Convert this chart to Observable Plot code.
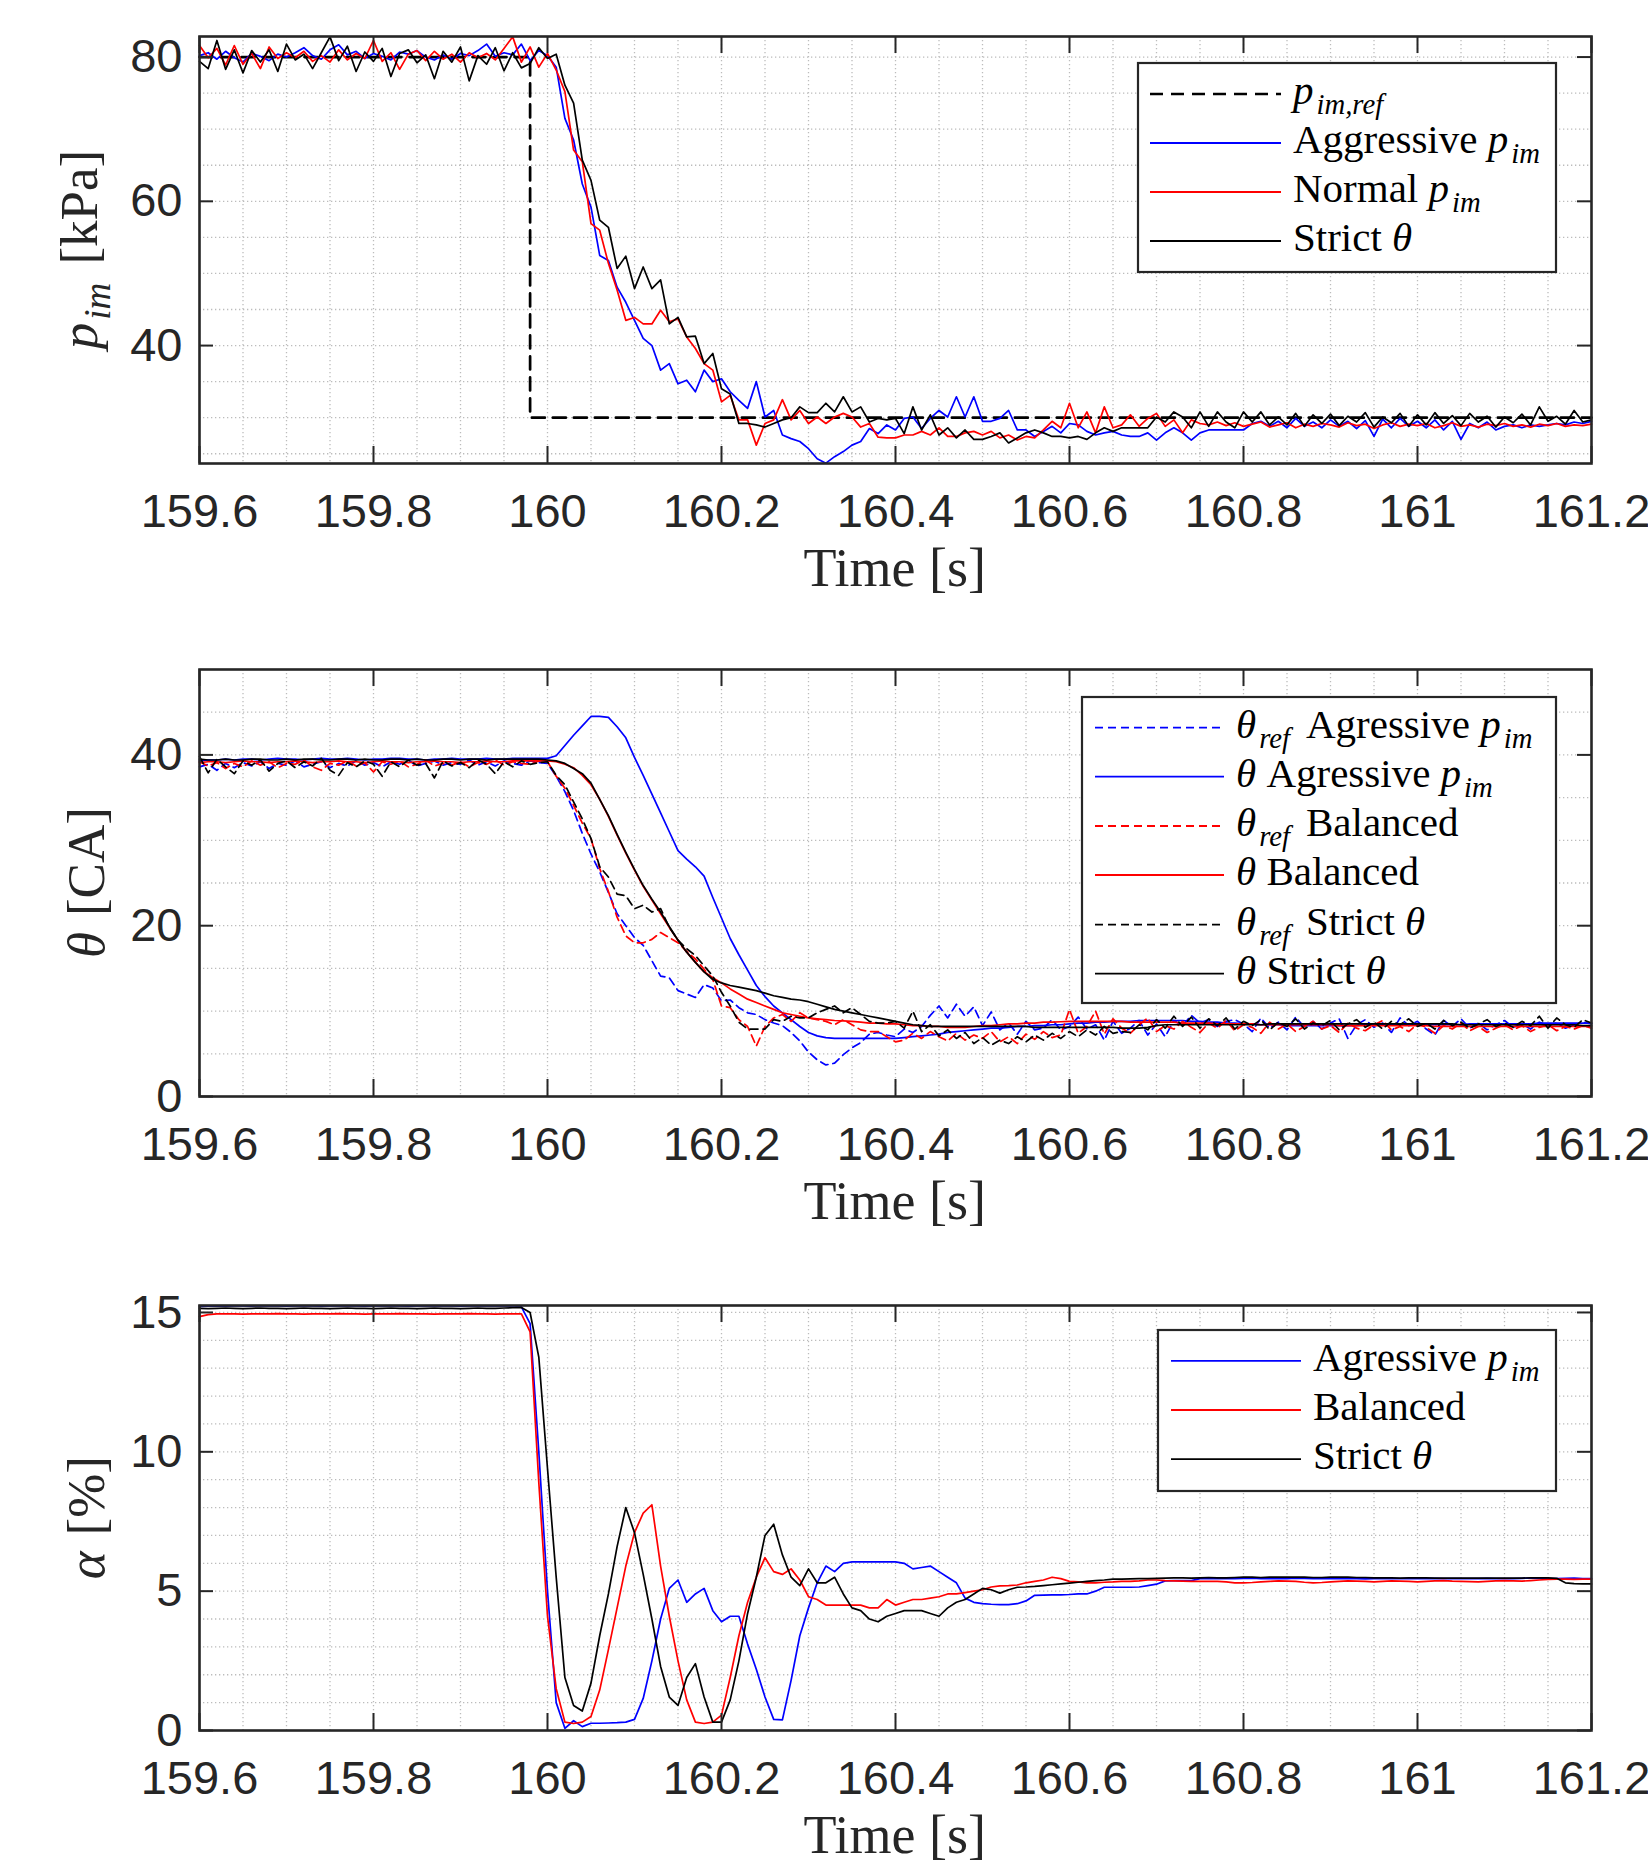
<!DOCTYPE html>
<html><head><meta charset="utf-8">
<script src="https://cdn.jsdelivr.net/npm/d3@7"></script>
<script src="https://cdn.jsdelivr.net/npm/@observablehq/plot@0.6"></script>
<style>
html,body{margin:0;padding:0;background:#fff;}
body{width:1648px;height:1863px;position:relative;overflow:hidden;}
.panel{position:absolute;left:0;}
#overlay{position:absolute;left:0;top:0;pointer-events:none;}
#overlay text{white-space:pre;}
</style></head><body>
<div id="p1" class="panel" style="top:0px"></div>
<div id="p2" class="panel" style="top:600px"></div>
<div id="p3" class="panel" style="top:1220px"></div>
<svg id="overlay" width="1648" height="1863" xmlns="http://www.w3.org/2000/svg"></svg>
<script>
// ---------- tick labels ----------
const xTickValues = [159.6, 159.8, 160, 160.2, 160.4, 160.6, 160.8, 161, 161.2];
const pimTicks = [40, 60, 80];
const thetaTicks = [0, 20, 40];
const alphaTicks = [0, 5, 10, 15];

// ---------- samples: t = 159.60, 159.61, ... 161.20 (100 Hz) ----------
const T0 = 159.6, DT = 0.01;

// Panel 1: intake manifold pressure p_im [kPa]
const pimRefTime = [159.6, 159.98, 159.98, 161.2];
const pimRefValue = [80, 80, 30, 30];
const pimAggressive = [
80.2,80.6,79.7,80.8,79.9,79.3,80.5,80.1,79.5,80.4,
80.0,80.6,81.3,80.2,79.7,81.0,81.7,80.3,80.8,79.8,
80.5,80.1,79.6,80.7,80.4,80.9,80.0,79.6,80.3,79.7,
80.5,80.2,80.9,81.8,80.1,80.6,80.3,81.8,79.5,80.9,
80.2,78.6,71.5,68.5,62.4,59.2,52.5,51.8,48.1,46.0,
43.5,41.0,40.0,36.6,37.5,34.7,35.2,33.6,36.6,35.0,
35.4,33.6,32.4,31.3,35.0,30.1,31.0,27.6,27.1,26.7,
25.7,24.3,23.7,24.6,25.3,26.2,26.7,28.5,27.8,29.0,
28.3,29.9,30.1,28.5,29.9,31.0,30.1,32.9,30.1,32.9,
29.5,29.5,29.9,31.0,28.3,28.3,27.4,28.1,28.8,27.9,
29.2,29.0,28.1,27.6,27.9,28.1,27.6,27.4,27.4,27.9,
26.9,27.9,28.6,27.9,26.9,27.9,28.3,28.3,28.3,28.3,
28.3,29.2,29.5,28.8,29.5,28.6,29.9,28.8,29.4,28.6,
29.7,28.8,29.5,28.5,29.6,27.4,29.8,28.6,29.9,28.8,
29.5,28.6,29.7,28.3,29.5,27.0,29.2,28.6,29.4,28.3,
28.8,29.0,28.6,29.0,28.8,29.0,29.2,29.0,29.4,29.2,29.5];
const pimNormal = [
81.6,79.9,81.2,78.9,81.6,79.0,80.5,78.4,81.4,79.8,
80.6,79.9,80.8,79.4,80.2,79.3,81.0,79.6,80.5,79.8,
82.3,79.4,80.6,78.3,80.4,80.9,79.5,80.8,79.7,80.4,
79.3,80.6,79.9,80.5,79.6,81.2,82.8,79.3,81.4,78.6,
80.5,78.2,75.2,67.1,65.5,56.9,56.0,51.4,47.7,43.5,
43.9,43.0,43.0,44.9,43.3,43.7,41.2,39.6,37.5,36.6,
32.2,33.1,29.7,29.7,26.2,29.2,29.7,32.5,29.7,31.0,
29.2,30.1,29.2,30.1,30.6,30.1,28.7,29.2,27.3,27.2,
27.2,27.6,27.6,28.1,27.6,28.6,27.4,27.4,27.9,28.1,
27.6,28.1,27.2,27.6,26.9,27.4,27.2,28.3,29.5,28.6,
32.0,28.6,30.8,27.9,31.5,28.6,29.0,30.4,28.8,29.9,
30.6,28.8,29.7,27.9,29.7,29.2,29.0,29.4,28.9,29.3,
28.8,29.1,29.4,28.7,29.0,29.3,28.6,29.1,28.8,29.2,
29.0,28.7,29.3,28.9,29.1,28.5,29.0,29.3,28.8,29.1,
28.9,29.2,28.6,28.9,29.3,28.8,29.0,28.7,29.1,28.9,
29.2,28.8,29.0,28.7,29.1,28.9,29.2,28.8,29.0,28.9,29.1];
const pimStrict = [
79.4,78.4,82.3,78.3,81.0,77.8,80.9,79.3,81.0,78.0,
81.8,79.6,80.4,78.4,80.6,82.8,79.5,81.5,78.0,80.7,
79.4,81.2,77.3,80.5,81.0,79.2,80.3,77.0,80.8,79.3,
81.4,76.7,80.2,79.0,81.3,78.1,80.6,78.5,79.1,81.3,
79.8,80.4,76.1,73.6,65.7,62.9,57.4,56.4,50.7,52.4,
47.9,50.9,47.9,49.1,43.0,43.9,41.2,41.3,37.5,38.9,
34.0,33.3,29.2,29.2,29.0,28.7,29.2,29.7,30.0,31.5,
30.7,30.7,32.0,30.8,32.9,30.8,31.5,29.4,29.9,29.7,
29.9,27.8,31.5,28.3,30.4,27.6,28.6,27.2,28.3,27.0,
27.0,27.4,27.9,26.5,27.2,27.9,28.3,27.9,27.4,27.4,
27.2,27.4,27.0,27.9,28.6,28.1,28.6,28.6,28.6,28.6,
30.1,29.4,30.8,30.1,28.6,30.8,28.8,30.8,29.4,28.6,
30.8,29.4,30.8,29.0,30.1,29.0,30.6,28.8,30.4,29.2,
30.5,28.9,30.2,29.4,30.7,28.7,30.1,29.3,30.6,28.8,
30.4,29.0,30.7,29.2,30.3,28.9,30.6,29.4,30.2,28.7,
30.1,29.3,30.5,29.0,31.5,29.5,30.2,29.1,31.0,29.4,29.7];

// Panel 2: combustion phasing theta [CA]
const thetaRefAggressive = [
38.6,38.9,38.2,39.0,38.5,39.1,38.7,39.2,38.4,39.0,
38.8,39.3,38.6,38.9,39.2,38.5,39.0,38.7,39.3,38.8,
39.1,38.6,39.2,38.9,39.4,38.7,39.0,39.3,38.8,39.1,
38.9,39.4,38.8,39.2,38.7,39.3,39.0,38.8,39.3,39.1,
39.0,37.5,35.7,33.5,30.8,28.4,26.3,23.9,21.4,20.0,
18.6,17.7,15.9,14.1,13.9,12.4,12.0,11.6,13.1,12.7,
11.2,11.3,10.4,9.8,9.6,9.0,8.6,8.3,7.5,6.5,
5.2,4.3,3.7,3.9,4.9,5.7,6.3,7.3,7.5,7.2,
7.0,7.9,7.5,8.2,9.5,10.6,9.2,10.8,9.4,10.5,
8.3,9.9,7.8,8.6,7.3,8.8,7.8,8.0,9.0,7.8,
8.2,9.3,7.9,8.4,6.6,8.8,7.4,8.0,8.9,7.2,
8.5,7.0,8.9,8.3,9.5,8.6,9.0,8.2,8.8,9.0,
8.5,7.6,9.2,8.0,8.7,7.8,9.3,8.1,8.8,7.9,
8.6,9.1,6.8,8.4,9.0,8.1,8.6,7.5,9.2,8.3,
8.8,7.9,7.2,8.9,8.2,9.1,8.0,8.6,7.8,8.4,
8.9,8.1,8.5,7.9,8.7,8.3,8.6,8.0,8.4,8.7,8.5];
const thetaAggressive = [
39.3,39.4,39.4,39.5,39.4,39.5,39.5,39.4,39.5,39.6,
39.5,39.5,39.4,39.5,39.6,39.5,39.5,39.6,39.5,39.4,
39.5,39.5,39.6,39.6,39.5,39.5,39.4,39.5,39.5,39.6,
39.5,39.5,39.5,39.6,39.5,39.5,39.6,39.6,39.6,39.6,
39.6,39.9,41.1,42.3,43.4,44.5,44.5,44.4,43.3,42.0,
39.7,37.6,35.4,33.2,31.0,28.8,27.8,26.9,25.8,23.3,
20.9,18.5,16.6,14.8,13.0,11.7,10.6,9.8,9.0,8.2,
7.5,7.1,6.9,6.8,6.8,6.8,6.8,6.8,6.8,6.8,
6.8,6.9,7.0,7.1,7.2,7.3,7.5,7.6,7.7,7.8,
7.9,8.0,8.0,8.1,8.2,8.2,8.3,8.3,8.4,8.4,
8.5,8.6,8.6,8.7,8.7,8.8,8.8,8.8,8.9,8.9,
8.9,8.9,8.9,8.9,8.8,8.8,8.7,8.7,8.6,8.6,
8.5,8.5,8.4,8.4,8.4,8.3,8.3,8.3,8.3,8.3,
8.3,8.3,8.3,8.3,8.4,8.4,8.4,8.4,8.4,8.4,
8.4,8.4,8.4,8.4,8.4,8.4,8.5,8.5,8.5,8.5,
8.5,8.5,8.5,8.5,8.6,8.6,8.6,8.6,8.6,8.6,8.6];
const thetaRefBalanced = [
39.2,38.7,39.1,38.4,39.0,38.6,39.3,38.8,39.2,38.5,
39.0,38.9,39.4,38.6,38.2,39.0,38.8,39.3,38.7,39.1,
38.0,39.2,38.9,39.3,38.6,38.9,39.4,38.7,39.0,38.8,
39.2,38.6,39.1,38.9,39.4,38.8,39.2,39.0,38.9,39.3,
39.2,37.5,36.1,34.1,32.0,30.2,26.7,24.0,21.0,18.8,
18.0,18.0,18.4,19.2,18.6,18.0,17.0,16.1,14.9,13.7,
10.6,10.4,9.0,8.2,5.9,8.2,9.2,9.6,8.8,9.8,
9.2,9.0,8.8,8.4,9.0,8.4,7.8,7.6,7.6,7.0,
6.4,6.6,7.4,6.8,7.6,7.0,6.5,7.4,6.6,7.2,
6.8,7.6,6.4,7.0,6.2,7.3,6.7,7.6,6.9,7.2,
10.2,7.4,8.2,10.0,7.3,9.1,8.0,7.4,8.4,9.2,
7.6,8.3,7.9,8.8,8.1,7.5,8.6,8.0,8.9,7.7,
8.4,8.1,7.4,8.7,7.9,8.5,7.6,8.2,8.8,7.9,
8.3,7.5,8.6,8.0,7.7,8.4,8.9,7.8,8.2,7.6,
8.5,8.1,7.4,8.3,7.9,8.6,7.7,8.2,7.5,8.0,
8.4,7.8,8.3,7.6,8.1,8.4,7.7,8.2,7.9,8.3,8.0];
const thetaBalanced = [
39.1,39.2,39.2,39.1,39.2,39.3,39.2,39.2,39.1,39.2,
39.2,39.3,39.2,39.1,39.2,39.2,39.3,39.2,39.2,39.1,
39.2,39.3,39.2,39.2,39.1,39.2,39.2,39.3,39.2,39.2,
39.1,39.2,39.2,39.3,39.2,39.2,39.3,39.3,39.3,39.3,
39.3,39.2,38.9,38.5,37.6,36.5,34.8,32.8,30.6,28.5,
26.5,24.6,23.0,21.4,19.8,18.3,16.9,15.7,14.6,13.9,
13.3,12.6,12.0,11.4,11.0,10.6,10.2,9.8,9.6,9.4,
9.2,9.1,9.0,8.9,8.85,8.8,8.7,8.6,8.6,8.5,
8.5,8.4,8.3,8.3,8.2,8.2,8.1,8.1,8.1,8.2,
8.3,8.3,8.4,8.5,8.5,8.6,8.6,8.7,8.7,8.75,
8.8,8.8,8.8,8.8,8.8,8.8,8.8,8.7,8.7,8.7,
8.7,8.7,8.7,8.6,8.6,8.6,8.6,8.5,8.5,8.5,
8.5,8.5,8.4,8.4,8.4,8.4,8.4,8.4,8.4,8.4,
8.4,8.3,8.3,8.3,8.3,8.3,8.3,8.3,8.3,8.3,
8.3,8.3,8.2,8.2,8.2,8.2,8.2,8.2,8.2,8.2,
8.2,8.2,8.2,8.2,8.2,8.2,8.2,8.2,8.2,8.2,8.2];
const thetaRefStrict = [
39.8,37.9,39.5,38.6,37.8,39.3,38.8,39.4,38.1,39.0,
39.3,38.5,39.2,38.7,39.6,38.2,37.6,39.1,38.6,39.3,
38.9,37.5,39.2,38.6,39.4,38.8,39.0,37.3,39.3,38.7,
39.1,38.5,39.4,38.9,37.8,39.2,38.6,39.3,38.9,39.1,
39.2,37.6,36.5,34.5,32.5,30.2,26.9,25.7,23.7,23.5,
22.0,22.4,21.6,22.0,19.8,18.3,17.3,16.5,15.3,14.1,
12.2,10.6,8.7,7.9,7.9,7.9,9.0,8.8,9.4,9.2,
9.2,9.8,10.2,10.6,9.8,10.4,9.6,8.8,8.6,8.6,
8.8,8.0,10.0,7.6,8.4,7.1,7.8,6.8,7.5,6.2,
6.9,6.0,6.6,6.2,7.0,6.4,7.2,6.6,7.4,6.8,
7.6,7.0,7.8,7.2,8.2,7.4,7.6,7.5,8.4,7.8,
9.0,8.0,9.4,8.2,9.3,8.0,9.1,8.3,9.2,7.9,
8.8,8.3,9.0,7.8,8.7,8.2,9.1,7.9,8.6,8.3,
8.9,7.8,8.5,9.0,8.1,8.7,7.9,8.8,8.4,9.1,
8.2,8.6,7.9,8.9,8.3,8.7,8.0,8.5,9.0,8.2,
8.6,8.1,8.8,8.3,9.4,8.0,9.2,8.4,8.1,9.0,8.6];
const thetaStrict = [
39.5,39.4,39.4,39.5,39.4,39.4,39.5,39.5,39.4,39.4,
39.5,39.4,39.5,39.5,39.4,39.4,39.5,39.5,39.4,39.5,
39.4,39.4,39.5,39.5,39.4,39.5,39.4,39.4,39.5,39.5,
39.4,39.5,39.5,39.4,39.5,39.5,39.5,39.5,39.5,39.5,
39.4,39.3,39.0,38.4,37.8,36.7,34.8,32.9,30.7,28.6,
26.6,24.7,23.1,21.6,19.9,18.3,16.9,15.7,14.6,13.7,
13.3,13.0,12.8,12.6,12.4,12.1,11.8,11.6,11.4,11.3,
11.1,10.8,10.5,10.2,10.0,9.8,9.6,9.4,9.2,9.0,
8.8,8.6,8.4,8.3,8.2,8.2,8.2,8.2,8.2,8.2,
8.2,8.2,8.2,8.2,8.2,8.2,8.1,8.1,8.1,8.1,
8.1,8.1,8.1,8.1,8.1,8.1,8.0,8.0,8.0,8.1,
8.3,8.4,8.4,8.4,8.4,8.4,8.4,8.4,8.4,8.4,
8.4,8.4,8.4,8.5,8.5,8.5,8.5,8.5,8.5,8.5,
8.5,8.5,8.5,8.5,8.5,8.5,8.5,8.5,8.5,8.5,
8.5,8.5,8.5,8.5,8.5,8.4,8.4,8.4,8.4,8.4,
8.4,8.4,8.4,8.4,8.4,8.4,8.4,8.4,8.4,8.3,8.3];

// Panel 3: alpha [%]
const alphaAggressive = [
15.22,15.23,15.24,15.23,15.24,15.24,15.23,15.24,15.24,15.24,
15.23,15.24,15.24,15.24,15.23,15.24,15.24,15.24,15.24,15.23,
15.24,15.24,15.24,15.24,15.23,15.24,15.24,15.24,15.24,15.24,
15.23,15.24,15.24,15.24,15.24,15.24,15.24,15.20,14.6,10.0,
5.0,1.0,0.08,0.35,0.14,0.26,0.26,0.27,0.28,0.3,
0.4,1.15,2.5,4.0,5.1,5.4,4.6,4.9,5.1,4.3,
3.9,4.1,4.1,3.1,2.2,1.2,0.4,0.38,1.8,3.4,
4.4,5.3,5.9,5.7,6.0,6.05,6.05,6.05,6.05,6.05,
6.05,6.0,5.8,5.85,5.9,5.7,5.5,5.3,4.75,4.6,
4.55,4.53,4.52,4.52,4.55,4.65,4.85,4.86,4.87,4.87,
4.88,4.9,4.9,5.0,5.14,5.14,5.14,5.14,5.15,5.2,
5.25,5.37,5.38,5.38,5.38,5.45,5.45,5.46,5.45,5.45,
5.46,5.47,5.45,5.45,5.46,5.45,5.47,5.46,5.45,5.45,
5.45,5.46,5.45,5.45,5.44,5.45,5.46,5.45,5.45,5.45,
5.45,5.45,5.46,5.45,5.45,5.45,5.45,5.45,5.46,5.45,
5.45,5.45,5.46,5.47,5.46,5.45,5.45,5.46,5.47,5.45,5.45];
const alphaBalanced = [
14.85,14.92,14.95,14.95,14.95,14.94,14.95,14.95,14.95,14.96,
14.95,14.95,14.94,14.95,14.95,14.95,14.96,14.95,14.95,14.94,
14.95,14.95,14.95,14.96,14.95,14.95,14.95,14.94,14.95,14.95,
14.95,14.96,14.95,14.95,14.94,14.95,14.95,14.95,14.3,8.9,
4.1,1.5,0.3,0.25,0.3,0.5,1.45,2.9,4.4,5.9,
7.1,7.8,8.1,5.9,4.1,2.5,1.1,0.3,0.25,0.3,
0.55,1.9,3.4,4.6,5.5,6.2,5.7,5.6,5.8,5.4,
4.8,4.7,4.5,4.5,4.5,4.5,4.5,4.4,4.4,4.7,
4.5,4.6,4.7,4.7,4.75,4.8,4.9,4.9,4.95,5.0,
5.05,5.15,5.19,5.2,5.22,5.3,5.35,5.4,5.5,5.45,
5.35,5.33,5.3,5.3,5.32,5.33,5.35,5.35,5.37,5.4,
5.4,5.38,5.37,5.36,5.35,5.35,5.35,5.35,5.33,5.3,
5.3,5.31,5.33,5.35,5.37,5.36,5.35,5.32,5.3,5.31,
5.33,5.35,5.37,5.36,5.35,5.33,5.35,5.37,5.36,5.35,
5.33,5.35,5.37,5.38,5.36,5.35,5.34,5.33,5.35,5.37,
5.38,5.37,5.36,5.38,5.4,5.42,5.43,5.43,5.42,5.43,5.43];
const alphaStrict = [
15.15,15.14,15.15,15.16,15.15,15.14,15.15,15.16,15.15,15.15,
15.14,15.15,15.16,15.15,15.15,15.14,15.15,15.16,15.15,15.15,
15.14,15.15,15.16,15.15,15.15,15.14,15.15,15.16,15.15,15.15,
15.14,15.15,15.16,15.15,15.15,15.16,15.17,15.18,15.0,13.4,
9.4,5.5,1.9,0.9,0.7,1.7,3.4,4.9,6.6,8.0,
7.1,5.6,4.0,2.3,1.2,0.9,1.9,2.4,1.2,0.3,
0.3,1.1,2.5,4.2,5.5,7.0,7.4,6.3,5.5,5.2,
5.8,5.3,5.3,5.5,4.9,4.4,4.3,4.0,3.9,4.1,
4.2,4.3,4.3,4.3,4.2,4.1,4.4,4.6,4.7,4.9,
5.1,5.05,4.93,5.05,5.14,5.15,5.17,5.2,5.23,5.26,
5.29,5.32,5.35,5.38,5.4,5.43,5.43,5.44,5.45,5.45,
5.46,5.47,5.48,5.48,5.47,5.48,5.49,5.48,5.48,5.49,
5.5,5.5,5.49,5.5,5.5,5.5,5.5,5.5,5.49,5.49,
5.5,5.5,5.5,5.49,5.49,5.48,5.48,5.48,5.47,5.48,
5.48,5.48,5.47,5.47,5.47,5.47,5.47,5.47,5.47,5.47,
5.47,5.47,5.47,5.48,5.48,5.48,5.46,5.3,5.27,5.26,5.26];

// ---------- helpers ----------
const BLUE = "#0000ff", RED = "#ff0000", BLACK = "#000000", AX = "#262626";
const rows = vals => vals.map((v, i) => ({t: T0 + i * DT, v}));
const xGrid = d3.range(1, 32).map(k => Math.round((159.6 + k * 0.05) * 100) / 100);
const fmtX = d => String(Math.round(d * 10) / 10);

function panel(id, cfg) {
  const W = 1648, ML = 199, MR = 57;
  const innerH = cfg.height - cfg.marginTop - cfg.marginBottom;
  const innerW = W - ML - MR;
  const tick = {stroke: AX, strokeWidth: 2};
  const chart = Plot.plot({
    width: W, height: cfg.height,
    marginLeft: ML, marginRight: MR, marginTop: cfg.marginTop, marginBottom: cfg.marginBottom,
    x: {domain: [159.6, 161.2], ticks: xTickValues, tickSize: 0, tickPadding: 30, tickFormat: fmtX, label: null},
    y: {domain: cfg.yDomain, ticks: cfg.yTicks, tickSize: 0, tickPadding: 17, label: null},
    style: {fontFamily: "'Liberation Sans', Arial, Helvetica, sans-serif", fontSize: "47px", color: AX, background: "#fff"},
    marks: [
      Plot.ruleX(xGrid, {stroke: "#bcbcbc", strokeWidth: 1.3, strokeDasharray: "1.3,2.7"}),
      Plot.ruleY(cfg.yGrid, {stroke: "#bcbcbc", strokeWidth: 1.3, strokeDasharray: "1.3,2.7"}),
      ...cfg.series.map(s => Plot.line(s.data, {x: "t", y: "v", stroke: s.color,
        strokeWidth: s.width || 1.7, strokeDasharray: s.dash || null, strokeLinejoin: "round"})),
      Plot.ruleX(xTickValues, {insetTop: innerH - 17, ...tick}),
      Plot.ruleX(xTickValues, {insetBottom: innerH - 17, ...tick}),
      Plot.ruleY(cfg.yTicks, {insetRight: innerW - 14, ...tick}),
      Plot.ruleY(cfg.yTicks, {insetLeft: innerW - 14, ...tick}),
      Plot.frame({stroke: AX, strokeWidth: 2.6})
    ]
  });
  document.getElementById(id).appendChild(chart);
}

panel("p1", {
  height: 600, marginTop: 36, marginBottom: 137,
  yDomain: [23.65, 82.85], yTicks: pimTicks, yGrid: [25,30,35,40,45,50,55,60,65,70,75,80],
  series: [
    {data: pimRefTime.map((t, i) => ({t, v: pimRefValue[i]})), color: BLACK, width: 2.7, dash: "13,8"},
    {data: rows(pimAggressive), color: BLUE},
    {data: rows(pimNormal), color: RED},
    {data: rows(pimStrict), color: BLACK}
  ]
});
panel("p2", {
  height: 620, marginTop: 69, marginBottom: 124,
  yDomain: [0, 50], yTicks: thetaTicks, yGrid: [5,10,15,20,25,30,35,40,45],
  series: [
    {data: rows(thetaRefAggressive), color: BLUE, dash: "8,5"},
    {data: rows(thetaAggressive), color: BLUE},
    {data: rows(thetaRefBalanced), color: RED, dash: "8,5"},
    {data: rows(thetaBalanced), color: RED},
    {data: rows(thetaRefStrict), color: BLACK, dash: "8,5"},
    {data: rows(thetaStrict), color: BLACK}
  ]
});
panel("p3", {
  height: 643, marginTop: 85, marginBottom: 133,
  yDomain: [0, 15.25], yTicks: alphaTicks, yGrid: [1,2,3,4,5,6,7,8,9,10,11,12,13,14,15],
  series: [
    {data: rows(alphaAggressive), color: BLUE},
    {data: rows(alphaBalanced), color: RED},
    {data: rows(alphaStrict), color: BLACK}
  ]
});

// ---------- labels & legends (overlay) ----------
const SERIF = "'Liberation Serif','Times New Roman',serif";
function rich(parts, fs) {
  let shift = 0, out = "";
  for (const p of parts) {
    const target = p.sub ? Math.round(fs * 0.25) : 0;
    const dy = target - shift; shift = target;
    const dx = p.dx || (p.sub ? 3 : 0);
    const attrs = (p.it || p.sub ? ' font-style="italic"' : '') +
      (p.sub ? ` font-size="${(fs * 0.7).toFixed(1)}"` : '') +
      (dy ? ` dy="${dy}"` : '') + (dx ? ` dx="${dx}"` : '');
    out += `<tspan${attrs}>${p.t}</tspan>`;
  }
  return out;
}
const P = [{t: "p", it: true}, {t: "im", sub: true}];
const TH = [{t: "θ", it: true}];
const THREF = [{t: "θ", it: true}, {t: "ref", sub: true}];
const txt = (t, dx) => ({t, dx});

let svg = "";
// axis titles
const xLabelY = [585.6, 1218.8, 1853];
for (const y of xLabelY) svg += `<text x="894.8" y="${y}" text-anchor="middle" font-family="${SERIF}" font-size="54" fill="${AX}">Time [s]</text>`;
const yLabels = [
  {x: 97, y: 249.5, parts: [...P, {t: "[kPa]", dx: 18}]},
  {x: 104, y: 882.6, parts: [...TH, {t: "[CA]", dx: 16}]},
  {x: 104, y: 1517.7, parts: [{t: "α", it: true}, {t: "[%]", dx: 16}]}
];
for (const l of yLabels) svg += `<text transform="translate(${l.x},${l.y}) rotate(-90)" text-anchor="middle" font-family="${SERIF}" font-size="53" fill="${AX}">${rich(l.parts, 53)}</text>`;

// legends
const legends = [
  {box: [1138, 63, 1556, 272], sx: [1150, 1281], tx: 1293, rows: [
    {y: 94, color: BLACK, w: 2.7, dash: "13,8", parts: [{t: "p", it: true}, {t: "im,ref", sub: true}]},
    {y: 143, color: BLUE, parts: [txt("Aggressive "), ...P]},
    {y: 192, color: RED, parts: [txt("Normal "), ...P]},
    {y: 241, color: BLACK, parts: [txt("Strict "), ...TH]}
  ]},
  {box: [1082, 697, 1556, 1003], sx: [1095, 1224], tx: 1236, rows: [
    {y: 727.6, color: BLUE, dash: "8,5", parts: [...THREF, txt("Agressive ", 16), ...P]},
    {y: 776.6, color: BLUE, parts: [...TH, txt(" Agressive "), ...P]},
    {y: 826, color: RED, dash: "8,5", parts: [...THREF, txt("Balanced", 16)]},
    {y: 875, color: RED, parts: [...TH, txt(" Balanced")]},
    {y: 924.7, color: BLACK, dash: "8,5", parts: [...THREF, txt("Strict ", 16), ...TH]},
    {y: 973.7, color: BLACK, parts: [...TH, txt(" Strict "), ...TH]}
  ]},
  {box: [1158, 1330, 1556, 1491], sx: [1171, 1301], tx: 1313, rows: [
    {y: 1360.8, color: BLUE, parts: [txt("Agressive "), ...P]},
    {y: 1410, color: RED, parts: [txt("Balanced")]},
    {y: 1459.2, color: BLACK, parts: [txt("Strict "), ...TH]}
  ]}
];
for (const L of legends) {
  const [x0, y0, x1, y1] = L.box;
  svg += `<rect x="${x0}" y="${y0}" width="${x1 - x0}" height="${y1 - y0}" fill="#fff" stroke="${AX}" stroke-width="2.2"/>`;
  for (const r of L.rows) {
    svg += `<line x1="${L.sx[0]}" x2="${L.sx[1]}" y1="${r.y}" y2="${r.y}" stroke="${r.color}" stroke-width="${r.w || 1.8}"${r.dash ? ` stroke-dasharray="${r.dash}"` : ''}/>`;
    svg += `<text x="${L.tx}" y="${r.y + 10}" font-family="${SERIF}" font-size="41" fill="#000">${rich(r.parts, 41)}</text>`;
  }
}
document.getElementById("overlay").innerHTML = svg;
</script></body></html>
